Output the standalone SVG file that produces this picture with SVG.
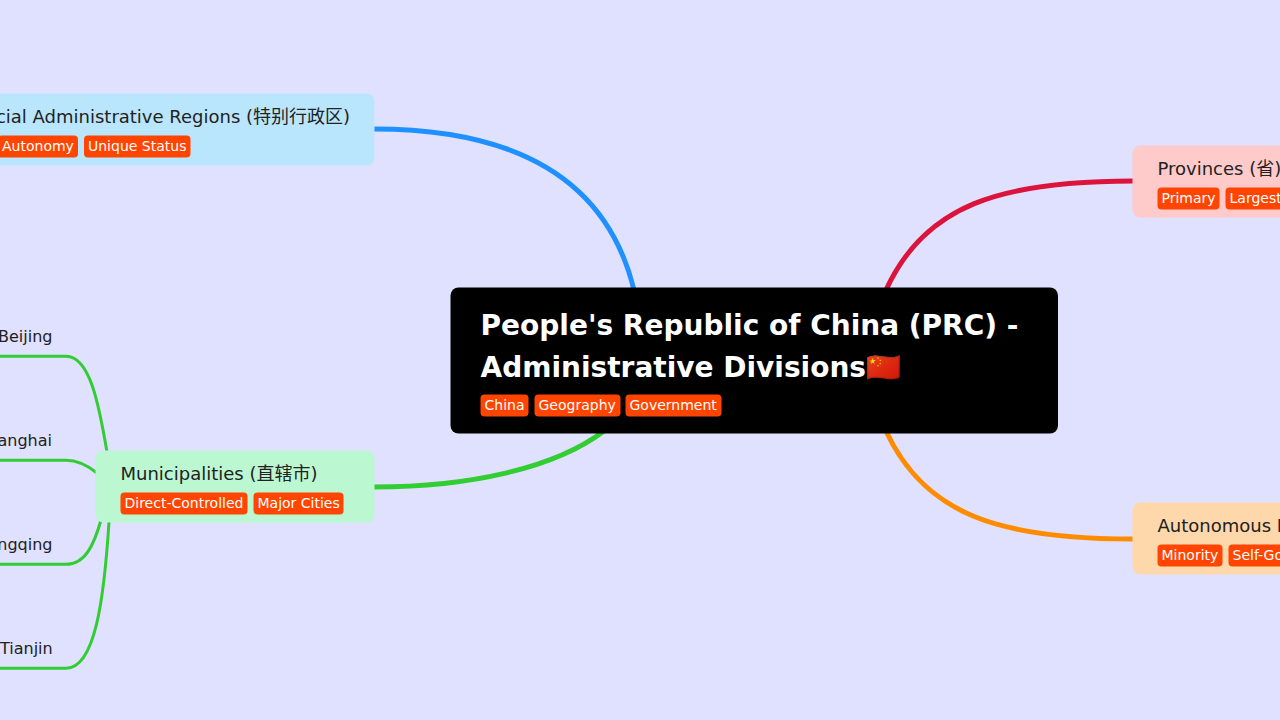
<svg xmlns="http://www.w3.org/2000/svg" width="1280" height="720" viewBox="0 0 1280 720">
<style>
text{font-family:"DejaVu Sans","Noto Sans CJK SC",sans-serif}
.main{fill:none;stroke-width:5;stroke-linecap:butt}
.sub{fill:none;stroke:#32cd32;stroke-width:3}
.card{stroke:none}
.label{font-size:18px;fill:#222}
.leaf{font-size:16px;fill:#222}
.tag{fill:#ff4500}
.tagt{font-size:14px;fill:#fff}
.title{font-size:28px;font-weight:700;fill:#fff}
</style>
<rect width="1280" height="720" fill="#e0e0ff"/>
<g id="connectors">
<path class="main" stroke="#1e90ff" d="M374 129 C510 129 606 175 634 290"/>
<path class="main" stroke="#dc143c" d="M1133 181 C1000 181 925 205 886 290"/>
<path class="main" stroke="#32cd32" d="M374 487 C470 487 555 468 604 431"/>
<path class="main" stroke="#ff8c00" d="M1133 539 C1000 539 925 515 886 431"/>
<path class="sub" d="M-10 356.300 H66 C90 356.300 99 405 107 452"/>
<path class="sub" d="M-10 460.300 H66 C78 460.300 87 465 97 473"/>
<path class="sub" d="M-10 564.300 H66 C85 564.300 94 545 101 520"/>
<path class="sub" d="M-10 668.300 H66 C95 668.300 104 600 109 522"/>
</g>
<g id="root">
<rect x="450.500" y="287.500" width="607.500" height="146" rx="8" fill="#000"/>
<text class="title" x="480.500" y="335">People's Republic of China (PRC) -</text>
<text class="title" x="480.500" y="377">Administrative Divisions🇨🇳</text>
<rect class="tag" x="480.500" y="394.500" width="48" height="22" rx="4"/><text class="tagt" x="484.500" y="410.300">China</text>
<rect class="tag" x="534.500" y="394.500" width="86" height="22" rx="4"/><text class="tagt" x="538.500" y="410.300">Geography</text>
<rect class="tag" x="625.500" y="394.500" width="96" height="22" rx="4"/><text class="tagt" x="629.500" y="410.300">Government</text>
</g>
<g id="sar">
<rect class="card" x="-100" y="93.500" width="474.500" height="72" rx="8" fill="#bae6fd"/>
<text class="label" x="-38" y="122.500">Special Administrative Regions (特别行政区)</text>
<rect class="tag" x="-2" y="135.500" width="80" height="22" rx="4"/><text class="tagt" x="2" y="151.300">Autonomy</text>
<rect class="tag" x="84" y="135.500" width="106.500" height="22" rx="4"/><text class="tagt" x="88" y="151.300">Unique Status</text>
</g>
<g id="municipalities">
<rect class="card" x="95.500" y="450.500" width="279" height="72" rx="8" fill="#bbf7d0"/>
<text class="label" x="120.500" y="479.500">Municipalities (直辖市)</text>
<rect class="tag" x="120.500" y="492.500" width="127" height="22" rx="4"/><text class="tagt" x="124.500" y="508.300">Direct-Controlled</text>
<rect class="tag" x="253.500" y="492.500" width="90" height="22" rx="4"/><text class="tagt" x="257.500" y="508.300">Major Cities</text>
</g>
<g id="provinces">
<rect class="card" x="1132.500" y="145.500" width="300" height="72" rx="8" fill="#fecaca"/>
<text class="label" x="1157.500" y="174.500">Provinces (省)</text>
<rect class="tag" x="1157.500" y="187.500" width="62" height="22" rx="4"/><text class="tagt" x="1161.500" y="203.300">Primary</text>
<rect class="tag" x="1225.500" y="187.500" width="100" height="22" rx="4"/><text class="tagt" x="1229.500" y="203.300">Largest</text>
</g>
<g id="autonomous">
<rect class="card" x="1132.500" y="502.500" width="300" height="72" rx="8" fill="#fed7aa"/>
<text class="label" x="1157.500" y="531.500">Autonomous Regions</text>
<rect class="tag" x="1157.500" y="544.500" width="65" height="22" rx="4"/><text class="tagt" x="1161.500" y="560.300">Minority</text>
<rect class="tag" x="1228.500" y="544.500" width="120" height="22" rx="4"/><text class="tagt" x="1232.500" y="560.300">Self-Governing</text>
</g>
<g id="beijing"><text class="leaf" x="-2" y="341.700">Beijing</text></g>
<g id="shanghai"><text class="leaf" x="52" y="445.700" text-anchor="end">Shanghai</text></g>
<g id="chongqing"><text class="leaf" x="52.500" y="549.700" text-anchor="end">Chongqing</text></g>
<g id="tianjin"><text class="leaf" x="0" y="653.700">Tianjin</text></g>
</svg>
